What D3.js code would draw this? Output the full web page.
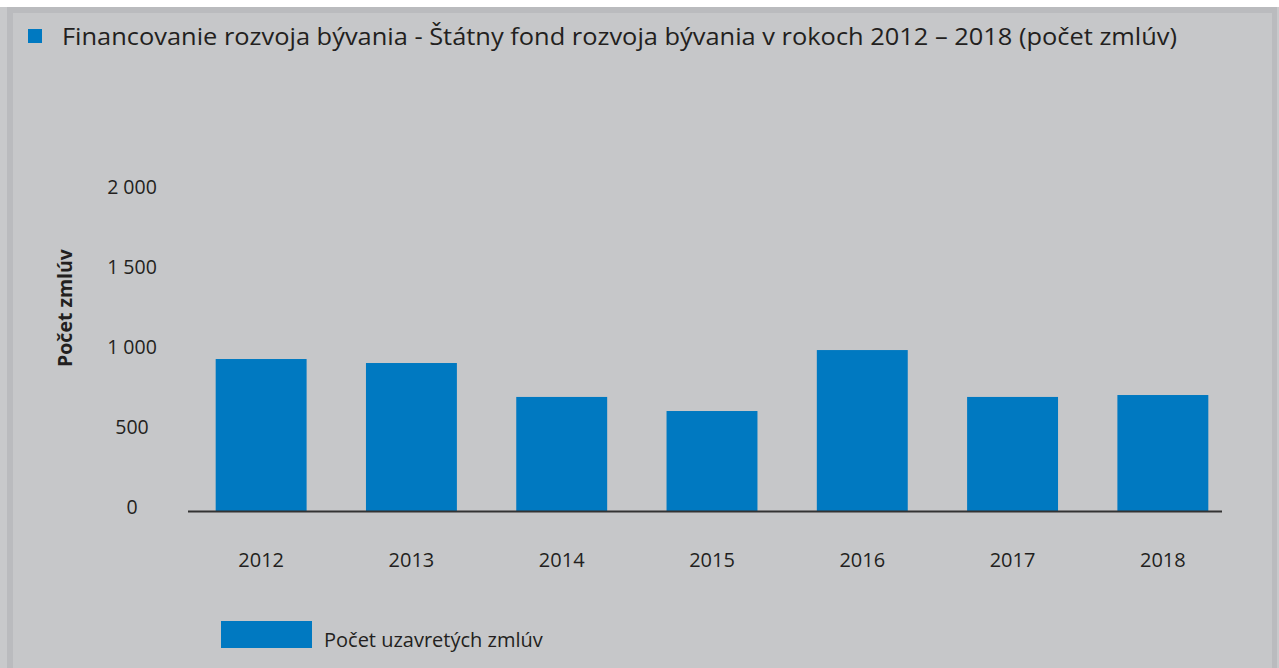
<!DOCTYPE html>
<html>
<head>
<meta charset="utf-8">
<script src="https://cdn.jsdelivr.net/npm/d3@7"></script>
<style>
  body { margin: 0; background: #fff; }
  svg { display: block; }
  text { font-family: "Open Sans", "Noto Sans", sans-serif; fill: #231f20; }
</style>
</head>
<body>
<svg></svg>
<script>
var years = ["2012", "2013", "2014", "2015", "2016", "2017", "2018"];
var contracts = [953, 928, 716, 628, 1009, 716, 728];
var yTicks = [0, 500, 1000, 1500, 2000];

var titleText = "Financovanie rozvoja bývania - Štátny fond rozvoja bývania v rokoch 2012 – 2018 (počet zmlúv)";
var yTitle = "Počet zmlúv";
var legendText = "Počet uzavretých zmlúv";

var width = 1279,
    height = 668,
    blue = "#0079c1";

var svg = d3.select("svg")
    .attr("width", width)
    .attr("height", height);

// frame
svg.append("rect")
    .attr("x", 0).attr("y", 7)
    .attr("width", width).attr("height", height - 7)
    .attr("fill", "#c8c9cb");
svg.append("rect")
    .attr("x", 7).attr("y", 7)
    .attr("width", 1270).attr("height", height - 7)
    .attr("fill", "#babbbe");
svg.append("rect")
    .attr("x", 13).attr("y", 13)
    .attr("width", 1259).attr("height", height - 13)
    .attr("fill", "#c6c7c9");

// title
svg.append("rect")
    .attr("x", 28).attr("y", 29)
    .attr("width", 14).attr("height", 14)
    .attr("fill", blue);
svg.append("text")
    .attr("x", 62)
    .attr("y", 45)
    .attr("textLength", 1115)
    .attr("lengthAdjust", "spacingAndGlyphs")
    .style("font-size", "24px")
    .text(titleText);

var x = d3.scaleBand()
    .domain(years)
    .range([186, 1238])
    .paddingInner(0.395)
    .paddingOuter(0.1975);

var y = d3.scaleLinear()
    .domain([0, 2000])
    .range([511.5, 191.5]);

// y tick labels
svg.append("g")
    .selectAll("text")
    .data(yTicks)
    .enter().append("text")
    .attr("x", 132)
    .attr("y", function(d) { return y(d) + 2; })
    .attr("text-anchor", "middle")
    .style("font-size", "19.5px")
    .text(function(d) { return d3.format(",")(d).replace(/,/g, " "); });

// y title
svg.append("text")
    .attr("transform", "translate(72,308)rotate(-90)")
    .attr("text-anchor", "middle")
    .style("font-size", "19.5px")
    .style("font-weight", "bold")
    .text(yTitle);

// bars
svg.append("g")
    .selectAll("rect")
    .data(contracts)
    .enter().append("rect")
    .attr("x", function(d, i) { return x(years[i]); })
    .attr("y", function(d) { return y(d); })
    .attr("width", x.bandwidth())
    .attr("height", function(d) { return y(0) - y(d); })
    .attr("fill", blue);

// baseline
svg.append("line")
    .attr("x1", 188).attr("x2", 1222)
    .attr("y1", y(0)).attr("y2", y(0))
    .attr("stroke", "#333")
    .attr("stroke-width", 2);

// x labels
svg.append("g")
    .selectAll("text")
    .data(years)
    .enter().append("text")
    .attr("x", function(d) { return x(d) + x.bandwidth() / 2; })
    .attr("y", 567)
    .attr("text-anchor", "middle")
    .style("font-size", "20px")
    .text(function(d) { return d; });

// legend
svg.append("rect")
    .attr("x", 221).attr("y", 621)
    .attr("width", 91).attr("height", 27)
    .attr("fill", blue);
svg.append("text")
    .attr("x", 324)
    .attr("y", 647)
    .style("font-size", "20px")
    .text(legendText);
</script>
</body>
</html>
